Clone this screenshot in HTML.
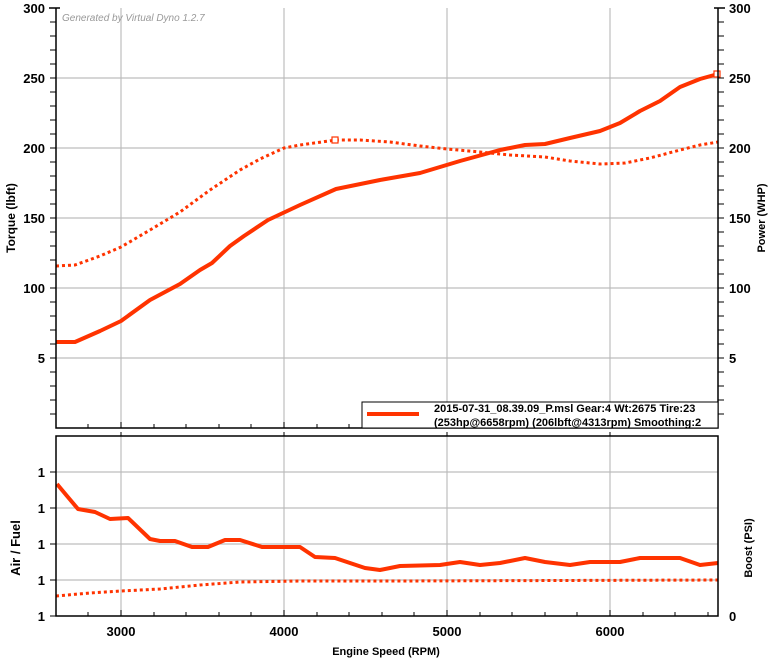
<!DOCTYPE html>
<html><head><meta charset="utf-8"><style>body{margin:0;background:#fff}svg{display:block}text{font-family:"Liberation Sans",Arial,sans-serif;font-weight:bold;fill:#000}</style></head><body>
<svg width="771" height="662" viewBox="0 0 771 662" xmlns="http://www.w3.org/2000/svg">
<rect width="771" height="662" fill="#fff"/>
<g stroke="#bdbdbd" stroke-width="1.2">
<line x1="121" y1="8" x2="121" y2="428"/><line x1="284" y1="8" x2="284" y2="428"/><line x1="447" y1="8" x2="447" y2="428"/><line x1="610" y1="8" x2="610" y2="428"/>
<line x1="56" y1="78" x2="718" y2="78"/><line x1="56" y1="148" x2="718" y2="148"/><line x1="56" y1="218" x2="718" y2="218"/><line x1="56" y1="288" x2="718" y2="288"/><line x1="56" y1="358" x2="718" y2="358"/>
<line x1="121" y1="436" x2="121" y2="616"/><line x1="284" y1="436" x2="284" y2="616"/><line x1="447" y1="436" x2="447" y2="616"/><line x1="610" y1="436" x2="610" y2="616"/>
<line x1="56" y1="472" x2="718" y2="472"/><line x1="56" y1="508" x2="718" y2="508"/><line x1="56" y1="544" x2="718" y2="544"/><line x1="56" y1="580" x2="718" y2="580"/>
</g>
<text x="62" y="21" font-size="10" font-style="italic" font-weight="normal" style="font-weight:normal;fill:#999">Generated by Virtual Dyno 1.2.7</text>
<g fill="none" stroke="#ff3300" stroke-linejoin="round">
<polyline stroke-width="4" points="56,342 75,342 100,331 121,321 150,300 180,284 200,270 212,263 230,246 244,236 268,220 300,205 336,189 380,180 420,173 460,161 500,150 525,145 545,144 570,138 600,131 620,123 640,111 660,101 680,87 700,79 718,74"/>
<polyline stroke-width="3" stroke-dasharray="3,3" points="56,266 75,265 100,256 121,247 150,230 180,212 210,190 240,170 260,159 284,148 300,145 336,140 360,140 390,142 420,146 447,149 480,152 510,155 545,157 570,161 600,164 625,163 650,158 680,150 700,145 718,142"/>
<polyline stroke-width="4" points="57,484 67,496 78,509 95,512 110,519 128,518 150,539 160,541 175,541 192,547 208,547 225,540 240,540 262,547 300,547 315,557 335,558 365,568 380,570 400,566 440,565 460,562 480,565 500,563 525,558 545,562 570,565 590,562 620,562 640,558 680,558 700,565 718,563"/>
<polyline stroke-width="3" stroke-dasharray="3,3" points="56,596 90,593 121,591 160,589 200,585 240,582 300,581 400,581 718,580"/>
</g>
<rect x="332" y="137" width="6" height="6" fill="#fff" stroke="#ff3300" stroke-width="1.2"/>
<rect x="714" y="71" width="6" height="6" fill="#fff" stroke="#ff3300" stroke-width="1.2"/>
<g stroke="#000" stroke-width="1.5" fill="none">
<polyline points="56,8 56,428 718,428 718,8"/>
<line x1="49" y1="8" x2="60" y2="8"/><line x1="714" y1="8" x2="725" y2="8"/>
<rect x="56" y="436" width="662" height="180"/>
</g>
<g stroke="#000" stroke-width="1">
<path d="M50,8h6M50,22h6M50,36h6M50,50h6M50,64h6M50,78h6M50,92h6M50,106h6M50,120h6M50,134h6M50,148h6M50,162h6M50,176h6M50,190h6M50,204h6M50,218h6M50,232h6M50,246h6M50,260h6M50,274h6M50,288h6M50,302h6M50,316h6M50,330h6M50,344h6M50,358h6M50,372h6M50,386h6M50,400h6M50,414h6"/>
<path d="M718,22h6M718,36h6M718,50h6M718,64h6M718,78h6M718,92h6M718,106h6M718,120h6M718,134h6M718,148h6M718,162h6M718,176h6M718,190h6M718,204h6M718,218h6M718,232h6M718,246h6M718,260h6M718,274h6M718,288h6M718,302h6M718,316h6M718,330h6M718,344h6M718,358h6M718,372h6M718,386h6M718,400h6M718,414h6"/>
<path d="M50,472h6M50,508h6M50,544h6M50,580h6M50,616h6"/>
<path d="M88,616v-4M121,616v-6M154,616v-4M186,616v-4M219,616v-4M251,616v-4M284,616v-6M317,616v-4M349,616v-4M382,616v-4M414,616v-4M447,616v-6M480,616v-4M512,616v-4M545,616v-4M577,616v-4M610,616v-6M643,616v-4M675,616v-4M708,616v-4"/>
<path d="M88,428v-4M121,428v-6M154,428v-4M186,428v-4M219,428v-4M251,428v-4M284,428v-6M317,428v-4M349,428v-4M382,428v-4M414,428v-4M447,428v-6M480,428v-4M512,428v-4M545,428v-4M577,428v-4M610,428v-6M643,428v-4M675,428v-4M708,428v-4M121,436v-4M284,436v-4M447,436v-4M610,436v-4"/>
</g>
<rect x="362" y="402" width="356" height="26" fill="#fff" stroke="#000" stroke-width="1"/>
<line x1="367" y1="414" x2="419" y2="414" stroke="#ff3300" stroke-width="4"/>
<text x="434" y="412" font-size="11">2015-07-31_08.39.09_P.msl Gear:4 Wt:2675 Tire:23</text>
<text x="434" y="426" font-size="11">(253hp@6658rpm) (206lbft@4313rpm) Smoothing:2</text>
<g font-size="13" text-anchor="end">
<text x="45" y="13">300</text><text x="45" y="83">250</text><text x="45" y="153">200</text><text x="45" y="223">150</text><text x="45" y="293">100</text><text x="45" y="363">5</text>
<text x="45" y="477">1</text><text x="45" y="513">1</text><text x="45" y="549">1</text><text x="45" y="585">1</text><text x="45" y="621">1</text>
</g>
<g font-size="13">
<text x="729" y="13">300</text><text x="729" y="83">250</text><text x="729" y="153">200</text><text x="729" y="223">150</text><text x="729" y="293">100</text><text x="729" y="363">5</text><text x="729" y="621">0</text>
</g>
<g font-size="13" text-anchor="middle">
<text x="121" y="636">3000</text><text x="284" y="636">4000</text><text x="447" y="636">5000</text><text x="610" y="636">6000</text>
</g>
<text x="386" y="655" font-size="11" text-anchor="middle">Engine Speed (RPM)</text>
<text transform="translate(15,218) rotate(-90)" font-size="12" text-anchor="middle">Torque (lbft)</text>
<text transform="translate(765,218) rotate(-90)" font-size="11" text-anchor="middle">Power (WHP)</text>
<text transform="translate(20,548) rotate(-90)" font-size="13" text-anchor="middle">Air / Fuel</text>
<text transform="translate(752,548) rotate(-90)" font-size="11" text-anchor="middle">Boost (PSI)</text>
</svg>
</body></html>
